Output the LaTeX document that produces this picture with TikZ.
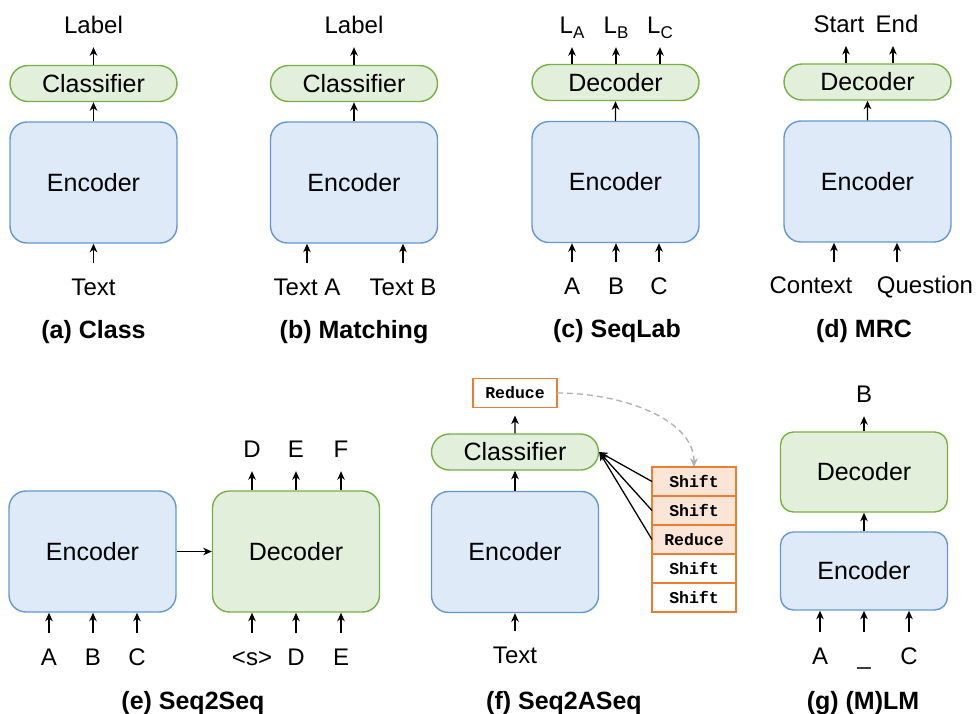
\documentclass[tikz,border=0pt]{standalone}
\usepackage{fontspec}
\setmainfont{Liberation Sans}
\setmonofont{Liberation Mono}
\usetikzlibrary{arrows.meta,shapes.misc,positioning}

\definecolor{encfill}{RGB}{222,234,247}
\definecolor{encdraw}{RGB}{100,152,212}
\definecolor{decfill}{RGB}{226,239,218}
\definecolor{decdraw}{RGB}{118,176,70}
\definecolor{actfill}{RGB}{251,229,214}
\definecolor{actdraw}{RGB}{237,125,49}
\definecolor{hint}{RGB}{175,175,175}

\newcommand\lsub[1]{\raisebox{-5pt}{\fontsize{17}{20}\selectfont #1}}

\begin{document}
\begin{tikzpicture}[x=1pt,y=-1pt,
    box/.style={rectangle,draw=encdraw,fill=encfill,line width=1.4pt,rounded corners=17pt,
      minimum width=167pt,minimum height=121pt,inner sep=0pt,font=\fontsize{25}{30}\selectfont},
    dec/.style={box,draw=decdraw,fill=decfill},
    pill/.style={rounded rectangle,draw=decdraw,fill=decfill,line width=1.4pt,
      minimum width=167pt,minimum height=36pt,inner sep=0pt,font=\fontsize{25}{30}\selectfont},
    act/.style={rectangle,draw=actdraw,fill=white,line width=1.4pt,outer sep=0pt,
      minimum width=84pt,minimum height=29pt,inner sep=0pt,
      font=\ttfamily\bfseries\fontsize{16.5}{20}\selectfont},
    done/.style={act,fill=actfill},
    lbl/.style={inner sep=0pt,text height=18pt,text depth=5pt,anchor=base,
      font=\fontsize{24}{29}\selectfont},
    subcap/.style={inner sep=0pt,anchor=base,font=\bfseries\fontsize{25}{30}\selectfont},
    arr/.style={-{Stealth[length=8.5pt,width=7.5pt,inset=2.5pt]},line width=1.3pt},
    inp/.style={arr,shorten <=14pt},
    outp/.style={arr,shorten >=9pt},
    node distance=0pt]
  \useasboundingbox (0,0) rectangle (977,713);

  % (a) Class
  \node[pill] (clsA) at (93.5,83.5) {Classifier};
  \node[box] (encA) at (93.5,182.5) {Encoder};
  \node[lbl] (labA) at (93.5,33) {Label};
  \node[lbl] (txtA) at (93.5,295) {Text};
  \node[subcap] (capA) at (93.5,338) {(a) Class};
  \path[arr] (encA) edge (clsA);
  \path (clsA.north -| labA) edge[outp] (labA)
        (txtA) edge[inp] (txtA |- encA.south);

  % (b) Matching
  \node[pill] (clsB) at (354,83.5) {Classifier};
  \node[box] (encB) at (354,182.5) {Encoder};
  \node[lbl] (labB) at (354,33) {Label};
  \node[lbl] (txtB1) at (307,295) {Text A};
  \node[lbl] (txtB2) at (403,295) {Text B};
  \node[subcap] (capB) at (354,338) {(b) Matching};
  \path[arr] (encB) edge (clsB);
  \path (clsB.north -| labB) edge[outp] (labB)
        (txtB1) edge[inp] (txtB1 |- encB.south)
        (txtB2) edge[inp] (txtB2 |- encB.south);

  % (c) SeqLab
  \node[pill] (decC) at (615.5,82.5) {Decoder};
  \node[box] (encC) at (615.5,182) {Encoder};
  \node[lbl] (labC1) at (572,33) {L\lsub{A}};
  \node[lbl] (labC2) at (616,33) {L\lsub{B}};
  \node[lbl] (labC3) at (660,33) {L\lsub{C}};
  \node[lbl] (tokC1) at (572,294) {A};
  \node[lbl] (tokC2) at (616,294) {B};
  \node[lbl] (tokC3) at (659,294) {C};
  \node[subcap] (capC) at (617,337) {(c) SeqLab};
  \path[arr] (encC) edge (decC);
  \foreach \i in {1,2,3}{
    \path (decC.north -| labC\i) edge[outp] (labC\i)
          (tokC\i) edge[inp] (tokC\i |- encC.south);
  }

  % (d) MRC
  \node[pill] (decD) at (867.5,82) {Decoder};
  \node[box] (encD) at (867.5,181.5) {Encoder};
  \node[lbl] (labD1) at (839,32) {Start};
  \node[lbl] (labD2) at (897,32) {End};
  \node[lbl] (txtD1) at (811,293) {Context};
  \node[lbl] (txtD2) at (925,293) {Question};
  \node[subcap] (capD) at (864,337) {(d) MRC};
  \coordinate (outSt) at (846,46);
  \coordinate (outEn) at (893,46);
  \coordinate (inCtx) at (834,262);
  \coordinate (inQst) at (897,262);
  \path[arr] (encD) edge (decD)
        (decD.north -| outSt) edge (outSt)
        (decD.north -| outEn) edge (outEn)
        (inCtx) edge (inCtx |- encD.south)
        (inQst) edge (inQst |- encD.south);

  % (e) Seq2Seq
  \node[box] (encE) at (92.5,551.5) {Encoder};
  \node[dec] (decE) at (296,551.5) {Decoder};
  \node[subcap] (capE) at (193,709) {(e) Seq2Seq};
  \foreach \n/\x/\t in {1/49/A,2/93/B,3/137/C}{
    \node[lbl] (srcE\n) at (\x,665) {\t};
    \path (srcE\n) edge[inp] (srcE\n |- encE.south);
  }
  \foreach \n/\x/\t/\o in {1/252/\textless s\textgreater/D,2/296/D/E,3/341/E/F}{
    \node[lbl] (tgtE\n) at (\x,665) {\t};
    \node[lbl] (outE\n) at (\x,457) {\o};
    \path (tgtE\n) edge[inp] (tgtE\n |- decE.south)
          (decE.north -| outE\n) edge[outp] (outE\n);
  }
  \path[arr] (encE) edge (decE);

  % (f) Seq2ASeq
  \node[act] (rdc) at (515,393) {Reduce};
  \node[pill] (clsF) at (515,452) {Classifier};
  \node[box] (encF) at (515,552) {Encoder};
  \node[lbl] (txtF) at (515,663) {Text};
  \node[subcap] (capF) at (564,709) {(f) Seq2ASeq};
  \node[done] (s1) at (694,481.5) {Shift};
  \node[done] (s2) [below=of s1] {Shift};
  \node[done] (s3) [below=of s2] {Reduce};
  \node[act] (s4) [below=of s3] {Shift};
  \node[act] (s5) [below=of s4] {Shift};
  \path[arr] (encF) edge (clsF)
        (clsF) edge[shorten >=8pt] (rdc)
        (s1.west) edge (clsF.east)
        (s2.west) edge (clsF.east)
        (s3.west) edge (clsF.east);
  \path (txtF) edge[inp] (txtF |- encF.south);
  \draw[arr,hint,dash pattern=on 6pt off 4pt] (rdc.east) .. controls +(65,0) and +(0,-48) .. (s1.north);

  % (g) (M)LM
  \node[dec,rounded corners=13pt,minimum height=80pt] (decG) at (864,472) {Decoder};
  \node[box,rounded corners=13pt,minimum height=78pt] (encG) at (864,571) {Encoder};
  \node[lbl] (labG) at (864,402) {B};
  \node[subcap] (capG) at (863,709) {(g) (M)LM};
  \path[arr] (encG) edge (decG);
  \path (decG.north -| labG) edge[outp] (labG);
  \foreach \n/\x/\t in {1/820/A,2/864/\_,3/909/C}{
    \node[lbl] (tokG\n) at (\x,664) {\t};
    \path (tokG\n) edge[inp] (tokG\n |- encG.south);
  }
\end{tikzpicture}
\end{document}
